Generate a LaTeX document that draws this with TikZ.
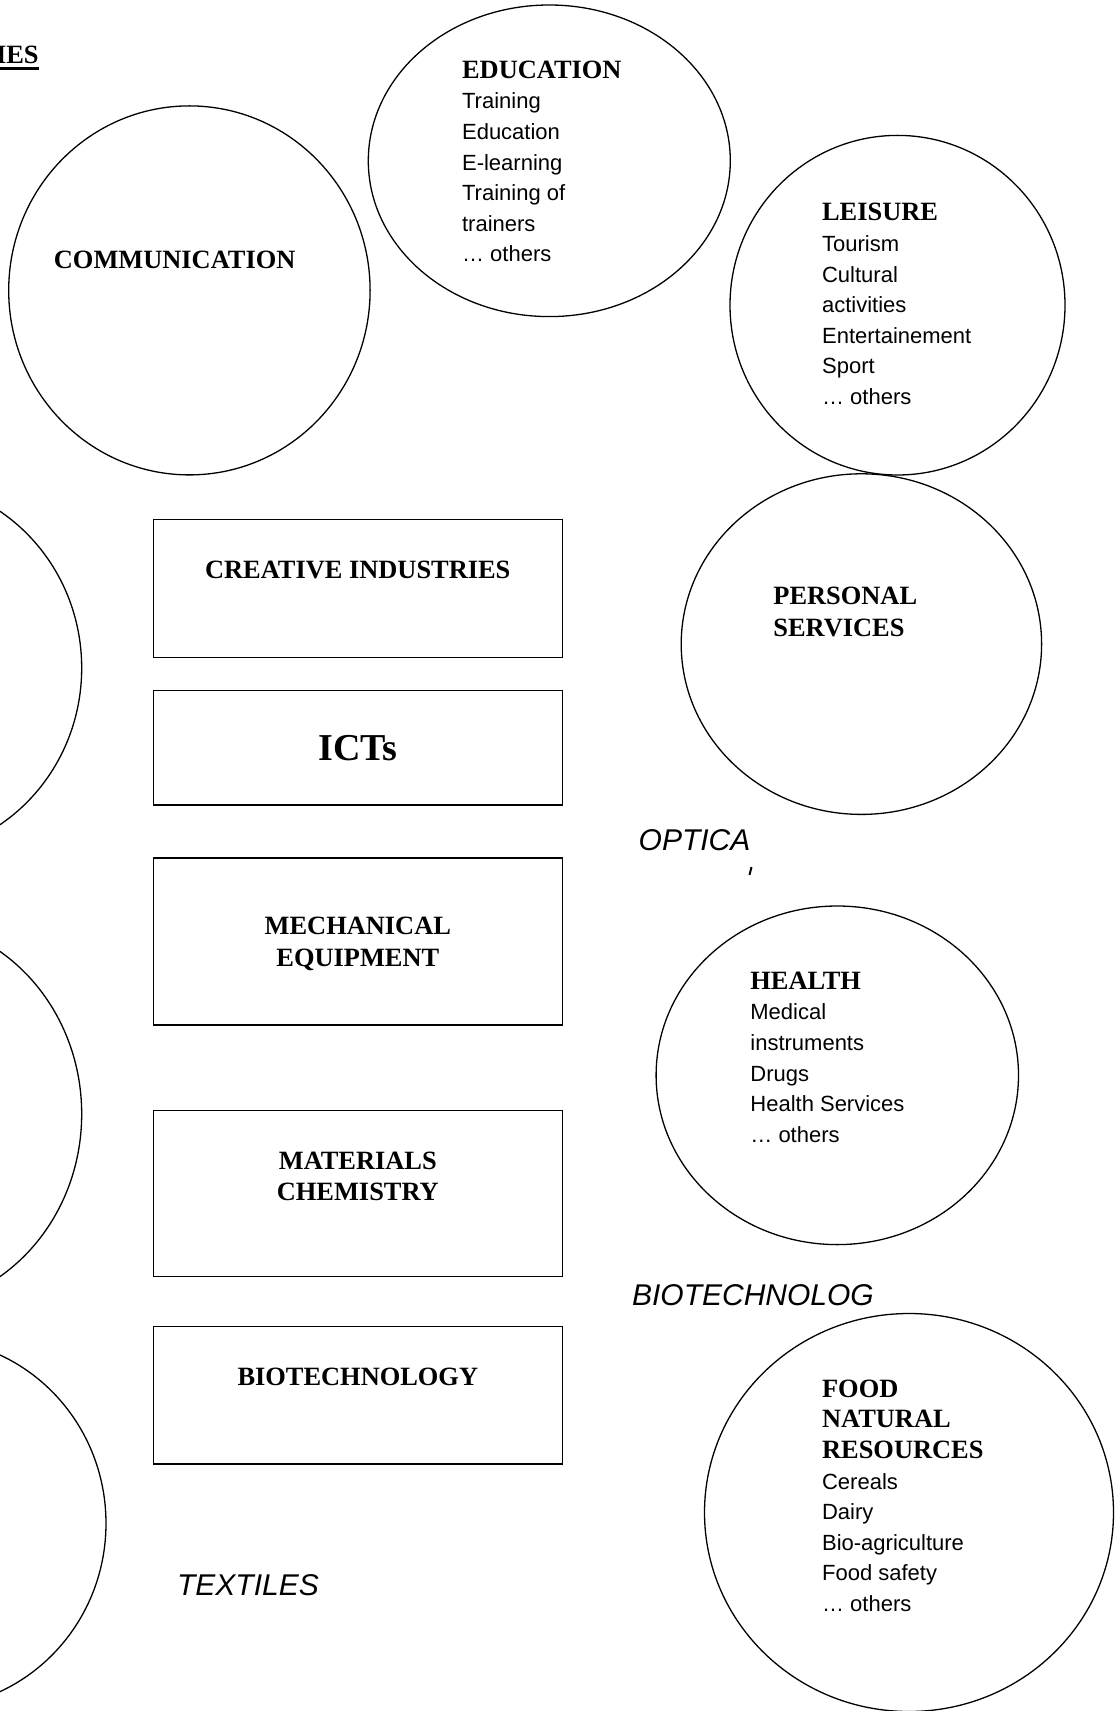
\documentclass[tikz,border=0pt]{standalone}
\usepackage{fontspec}
\setmainfont{Liberation Serif}
\setsansfont{Liberation Sans}
\usepackage{tikz}
\usetikzlibrary{shapes.geometric}
\newcommand{\hd}{\rmfamily\bfseries\fontsize{13.2}{15}\selectfont}
\newcommand{\cellstack}[2][l]{\begin{tabular}[t]{@{}#1@{}}#2\end{tabular}}

\begin{document}
\begin{tikzpicture}[x=0.5pt,y=-0.5pt,
  bubble/.style 2 args={ellipse,draw,line width=0.65pt,inner sep=0pt,
    minimum width=#1pt,minimum height=#2pt},
  sector/.style={rectangle,draw,line width=0.65pt,inner sep=0pt,
    minimum width=204.5pt,minimum height=#1pt},
  blurb/.style={anchor=base west,inner sep=0pt,
    font=\sffamily\fontsize{11}{15.3}\selectfont},
  heading/.style={anchor=base west,inner sep=0pt,
    font=\rmfamily\bfseries\fontsize{13.2}{15.7}\selectfont},
  boxtext/.style={heading,anchor=base},
  scrawl/.style={anchor=base west,inner sep=0pt,
    font=\sffamily\itshape\fontsize{15}{18}\selectfont}]
  \useasboundingbox (0,0) rectangle (1119,1711);

  % Page heading, cut at the left margin.
  \node[heading,anchor=base east] (ies) at (39,63.3) {IES};
  \draw[line width=1.35pt] ([yshift=-2.5pt]ies.base west) -- ([yshift=-2.5pt]ies.base east);

  % Application areas.
  \node[bubble={181}{155.8}] (education) at (549.3,160.8) {};
  \node[blurb] (edutext) at (461.7,78.3)
    {\cellstack{{\hd EDUCATION}\\Training\\Education\\E-learning\\Training of\\trainers\\… others}};
  \node[bubble={180.7}{184.5}] (communication) at (189.4,290.4) {};
  \node[heading] (commtext) at (53.5,268.6) {COMMUNICATION};
  \node[bubble={167.5}{169.8}] (leisure) at (897.5,305.2) {};
  \node[blurb] (leistext) at (821.7,221)
    {\cellstack{{\hd LEISURE}\\Tourism\\Cultural\\activities\\Entertainement\\Sport\\… others}};
  \node[bubble={180.2}{170.3}] (personal) at (861.4,644.1) {};
  \node[heading] (perstext) at (773,604.8) {\cellstack{PERSONAL\\SERVICES}};
  \node[bubble={181.2}{169.3}] (health) at (837.3,1075.3) {};
  \node[blurb] (healthtext) at (750,989.3)
    {\cellstack{{\hd HEALTH}\\Medical\\instruments\\Drugs\\Health Services\\… others}};
  \node[bubble={204.5}{199}] (food) at (909,1512.5) {};
  \node[blurb] (foodtext) at (821.7,1397.3)
    {\cellstack{{\hd FOOD}\\{\hd NATURAL}\\{\hd RESOURCES}\\Cereals\\Dairy\\Bio-agriculture\\Food safety\\… others}};

  % Circles cut by the left margin.
  \node[bubble={180}{187}] (leftA) at (-98.3,668) {};
  \node[bubble={180}{194}] (leftB) at (-98.3,1114) {};
  \node[bubble={180}{184.6}] (leftC) at (-74,1523.3) {};

  % Technology boxes.
  \node[sector=69.2] (creative) at (357.8,588.5) {};
  \node[boxtext] (creativetext) at (357.8,578.3) {CREATIVE INDUSTRIES};
  \node[sector=57.15] (icts) at (357.8,747.85) {};
  \node[boxtext,font=\rmfamily\bfseries\fontsize{19}{22}\selectfont] (ictstext) at (357.8,760) {ICTs};
  \node[sector=83.5] (mechanical) at (357.8,941.6) {};
  \node[boxtext] (mechtext) at (357.8,934.6) {\cellstack[c]{MECHANICAL\\EQUIPMENT}};
  \node[sector=82.95] (materials) at (357.8,1193.25) {};
  \node[boxtext] (mattext) at (357.8,1169.3) {\cellstack[c]{MATERIALS\\CHEMISTRY}};
  \node[sector=68.8] (biotech) at (357.8,1395.2) {};
  \node[boxtext] (biotext) at (357.8,1385.4) {BIOTECHNOLOGY};

  % Loose handwritten labels.
  \node[scrawl] (optica) at (638.3,850.7) {OPTICA};
  \draw[line width=1pt] (751.5,867) -- (749.5,875);
  \node[scrawl] (biotechnolog) at (631.7,1305) {BIOTECHNOLOG};
  \node[scrawl] (textiles) at (176.7,1595) {TEXTILES};
\end{tikzpicture}
\end{document}
